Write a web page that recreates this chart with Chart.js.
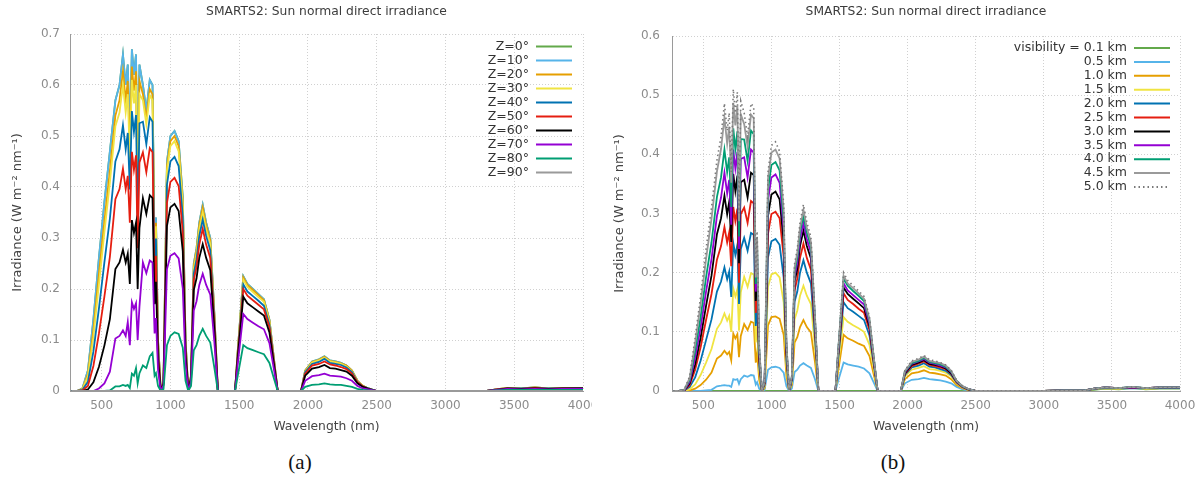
<!DOCTYPE html>
<html lang="en">
<head>
  <meta charset="utf-8">
  <title>SMARTS2: Sun normal direct irradiance</title>
  <script src="https://cdn.jsdelivr.net/npm/chart.js@4"></script>
  <style>
    body {
      margin: 0;
      background: #fff;
      width: 1203px;
      height: 479px;
      position: relative;
      overflow: hidden;
    }
    canvas { position: absolute; top: 0; }
    #chartA { left: 0; }
    #chartB { left: 600px; }
    .caption {
      position: absolute;
      top: 450px;
      height: 24px;
      line-height: 24px;
      font-family: "Liberation Serif", "DejaVu Serif", serif;
      font-size: 21px;
      color: #111;
      transform: translateX(-50%);
    }
  </style>
</head>
<body>
  <canvas id="chartA" width="592" height="440"></canvas>
  <canvas id="chartB" width="603" height="440"></canvas>
  <div class="caption" style="left:300px">(a)</div>
  <div class="caption" style="left:893px">(b)</div>

<script>
// wavelength grid (nm) shared by every curve
const wavelength = [
  280, 320, 360, 400, 440, 480, 520, 560, 600, 630,
  655, 675, 690, 705, 720, 735, 750, 762, 775, 800,
  825, 850, 870, 885, 895, 910, 930, 950, 975, 1000,
  1030, 1060, 1090, 1110, 1130, 1150, 1170, 1190, 1210, 1235,
  1260, 1290, 1320, 1345, 1400, 1470, 1490, 1530, 1560, 1600,
  1640, 1680, 1720, 1750, 1780, 1850, 1950, 1980, 2030, 2080,
  2120, 2160, 2200, 2240, 2280, 2320, 2360, 2400, 2440, 2500,
  3000, 3150, 3300, 3370, 3450, 3550, 3650, 3750, 3850, 4000
];

const xTicks = [500, 1000, 1500, 2000, 2500, 3000, 3500, 4000];
const yTicksA = [0, 0.1, 0.2, 0.3, 0.4, 0.5, 0.6, 0.7];
const yTicksB = [0, 0.1, 0.2, 0.3, 0.4, 0.5, 0.6];

// (a) zenith angle series, W m-2 nm-1
const zen0 = [
  0, 0, 0.005, 0.04, 0.14, 0.26, 0.37, 0.47, 0.57, 0.60,
  0.66, 0.60, 0.64, 0.50, 0.67, 0.62, 0.66, 0.40, 0.64, 0.60,
  0.55, 0.61, 0.60, 0.27, 0.34, 0.10, 0, 0.02, 0.45, 0.50,
  0.51, 0.49, 0.38, 0.10, 0, 0.03, 0.25, 0.28, 0.33, 0.365,
  0.33, 0.30, 0.15, 0, 0, 0, 0.08, 0.225, 0.21, 0.20,
  0.19, 0.18, 0.14, 0.07, 0, 0, 0, 0.04, 0.058, 0.062,
  0.068, 0.06, 0.058, 0.055, 0.05, 0.04, 0.02, 0.01, 0.005, 0,
  0, 0, 0, 0.003, 0.006, 0.005, 0.007, 0.005, 0.006, 0.006
];
const zen10 = [
  0, 0, 0.005, 0.04, 0.14, 0.26, 0.37, 0.47, 0.57, 0.60,
  0.66, 0.60, 0.64, 0.50, 0.67, 0.62, 0.66, 0.40, 0.64, 0.60,
  0.55, 0.61, 0.60, 0.27, 0.34, 0.10, 0, 0.02, 0.45, 0.50,
  0.51, 0.49, 0.38, 0.10, 0, 0.03, 0.25, 0.28, 0.33, 0.365,
  0.33, 0.30, 0.15, 0, 0, 0, 0.08, 0.225, 0.21, 0.20,
  0.19, 0.18, 0.14, 0.07, 0, 0, 0, 0.04, 0.058, 0.062,
  0.068, 0.06, 0.058, 0.055, 0.05, 0.04, 0.02, 0.01, 0.005, 0,
  0, 0, 0, 0.003, 0.006, 0.005, 0.007, 0.005, 0.006, 0.006
];
const zen20 = [
  0, 0, 0.004, 0.033, 0.119, 0.229, 0.333, 0.432, 0.54, 0.57,
  0.627, 0.57, 0.608, 0.475, 0.636, 0.589, 0.627, 0.38, 0.608, 0.582,
  0.534, 0.592, 0.582, 0.262, 0.33, 0.097, 0, 0.02, 0.441, 0.49,
  0.50, 0.48, 0.372, 0.098, 0, 0.03, 0.246, 0.276, 0.325, 0.36,
  0.325, 0.296, 0.148, 0, 0, 0, 0.079, 0.223, 0.208, 0.198,
  0.188, 0.178, 0.139, 0.069, 0, 0, 0, 0.04, 0.057, 0.061,
  0.067, 0.059, 0.057, 0.054, 0.05, 0.04, 0.02, 0.01, 0.005, 0,
  0, 0, 0, 0.003, 0.006, 0.005, 0.007, 0.005, 0.006, 0.006
];
const zen30 = [
  0, 0, 0.003, 0.028, 0.105, 0.208, 0.311, 0.409, 0.519, 0.546,
  0.60, 0.546, 0.582, 0.455, 0.61, 0.564, 0.60, 0.364, 0.582, 0.57,
  0.523, 0.58, 0.57, 0.256, 0.323, 0.095, 0, 0.019, 0.432, 0.48,
  0.49, 0.47, 0.365, 0.096, 0, 0.029, 0.24, 0.269, 0.317, 0.35,
  0.317, 0.288, 0.144, 0, 0, 0, 0.078, 0.218, 0.204, 0.194,
  0.184, 0.175, 0.136, 0.068, 0, 0, 0, 0.038, 0.056, 0.06,
  0.065, 0.058, 0.056, 0.053, 0.048, 0.038, 0.019, 0.01, 0.005, 0,
  0, 0, 0, 0.003, 0.006, 0.005, 0.006, 0.005, 0.006, 0.006
];
const zen40 = [
  0, 0, 0.002, 0.018, 0.077, 0.161, 0.252, 0.338, 0.45, 0.474,
  0.521, 0.474, 0.506, 0.395, 0.549, 0.508, 0.541, 0.328, 0.525, 0.528,
  0.484, 0.537, 0.528, 0.238, 0.299, 0.088, 0, 0.018, 0.405, 0.45,
  0.459, 0.441, 0.342, 0.09, 0, 0.028, 0.23, 0.258, 0.304, 0.336,
  0.304, 0.276, 0.138, 0, 0, 0, 0.074, 0.209, 0.195, 0.186,
  0.177, 0.167, 0.13, 0.065, 0, 0, 0, 0.037, 0.053, 0.057,
  0.063, 0.055, 0.053, 0.051, 0.046, 0.037, 0.018, 0.009, 0.005, 0,
  0, 0, 0, 0.003, 0.005, 0.005, 0.006, 0.005, 0.005, 0.006
];
const zen50 = [
  0, 0, 0.001, 0.01, 0.049, 0.112, 0.185, 0.263, 0.376, 0.396,
  0.436, 0.396, 0.422, 0.33, 0.469, 0.434, 0.462, 0.28, 0.448, 0.468,
  0.429, 0.476, 0.468, 0.21, 0.265, 0.078, 0, 0.016, 0.369, 0.41,
  0.418, 0.402, 0.312, 0.082, 0, 0.026, 0.218, 0.244, 0.287, 0.318,
  0.287, 0.261, 0.131, 0, 0, 0, 0.071, 0.2, 0.187, 0.178,
  0.169, 0.16, 0.125, 0.062, 0, 0, 0, 0.034, 0.05, 0.053,
  0.058, 0.052, 0.05, 0.047, 0.043, 0.034, 0.017, 0.009, 0.004, 0,
  0, 0, 0, 0.003, 0.005, 0.004, 0.006, 0.004, 0.005, 0.005
];
const zen60 = [
  0, 0, 0, 0.003, 0.017, 0.047, 0.089, 0.141, 0.239, 0.252,
  0.277, 0.252, 0.269, 0.21, 0.335, 0.31, 0.33, 0.2, 0.32, 0.378,
  0.347, 0.384, 0.378, 0.17, 0.214, 0.063, 0, 0.014, 0.324, 0.36,
  0.367, 0.353, 0.274, 0.072, 0, 0.024, 0.198, 0.221, 0.261, 0.288,
  0.261, 0.237, 0.119, 0, 0, 0, 0.066, 0.185, 0.172, 0.164,
  0.156, 0.148, 0.115, 0.057, 0, 0, 0, 0.03, 0.044, 0.047,
  0.051, 0.045, 0.044, 0.041, 0.038, 0.03, 0.015, 0.008, 0.004, 0,
  0, 0, 0, 0.002, 0.005, 0.004, 0.005, 0.004, 0.005, 0.005
];
const zen70 = [
  0, 0, 0, 0, 0, 0.005, 0.015, 0.038, 0.103, 0.108,
  0.119, 0.108, 0.135, 0.09, 0.174, 0.161, 0.172, 0.1, 0.166, 0.252,
  0.231, 0.256, 0.252, 0.113, 0.143, 0.042, 0, 0.011, 0.239, 0.265,
  0.27, 0.26, 0.201, 0.053, 0, 0.019, 0.158, 0.176, 0.208, 0.23,
  0.208, 0.189, 0.095, 0, 0, 0, 0.054, 0.151, 0.141, 0.134,
  0.127, 0.121, 0.094, 0.047, 0, 0, 0, 0.02, 0.029, 0.031,
  0.034, 0.03, 0.029, 0.028, 0.025, 0.02, 0.01, 0.005, 0.003, 0,
  0, 0, 0, 0.002, 0.004, 0.003, 0.004, 0.003, 0.004, 0.004
];
const zen80 = [
  0, 0, 0, 0, 0, 0, 0, 0.001, 0.009, 0.009,
  0.012, 0.01, 0.012, 0.006, 0.034, 0.03, 0.045, 0.015, 0.035, 0.05,
  0.045, 0.068, 0.075, 0.03, 0.035, 0.01, 0, 0.004, 0.09, 0.108,
  0.115, 0.112, 0.085, 0.02, 0, 0.01, 0.08, 0.09, 0.108, 0.122,
  0.108, 0.095, 0.045, 0, 0, 0, 0.03, 0.09, 0.084, 0.08,
  0.076, 0.072, 0.055, 0.027, 0, 0, 0, 0.008, 0.012, 0.013,
  0.015, 0.013, 0.012, 0.012, 0.01, 0.008, 0.004, 0.002, 0.001, 0,
  0, 0, 0, 0.001, 0.002, 0.002, 0.002, 0.002, 0.002, 0.002
];
const zen90 = [
  0, 0, 0, 0, 0, 0, 0, 0, 0, 0,
  0, 0, 0, 0, 0, 0, 0, 0, 0, 0,
  0, 0, 0, 0, 0, 0, 0, 0, 0, 0,
  0, 0, 0, 0, 0, 0, 0, 0, 0, 0,
  0, 0, 0, 0, 0, 0, 0, 0, 0, 0,
  0, 0, 0, 0, 0, 0, 0, 0, 0, 0,
  0, 0, 0, 0, 0, 0, 0, 0, 0, 0,
  0, 0, 0, 0, 0, 0, 0, 0, 0, 0
];

// (b) visibility series, W m-2 nm-1
const vis01 = [
  0, 0, 0, 0, 0, 0, 0, 0, 0, 0,
  0, 0, 0, 0, 0, 0, 0, 0, 0, 0,
  0, 0, 0, 0, 0, 0, 0, 0, 0, 0,
  0, 0, 0, 0, 0, 0, 0, 0, 0, 0,
  0, 0, 0, 0, 0, 0, 0, 0, 0, 0,
  0, 0, 0, 0, 0, 0, 0, 0, 0, 0,
  0, 0, 0, 0, 0, 0, 0, 0, 0, 0,
  0, 0, 0, 0.002, 0.004, 0.003, 0.005, 0.003, 0.004, 0.004
];
const vis05 = [
  0, 0, 0, 0, 0, 0, 0.001, 0.002, 0.008, 0.009,
  0.01, 0.009, 0.009, 0.007, 0.02, 0.019, 0.02, 0.012, 0.02, 0.026,
  0.024, 0.027, 0.026, 0.011, 0.015, 0.004, 0, 0.002, 0.036, 0.04,
  0.041, 0.039, 0.031, 0.008, 0, 0.004, 0.032, 0.036, 0.043, 0.047,
  0.043, 0.039, 0.02, 0, 0, 0, 0.017, 0.048, 0.045, 0.043,
  0.041, 0.038, 0.03, 0.015, 0, 0, 0, 0.013, 0.019, 0.02,
  0.022, 0.02, 0.019, 0.018, 0.016, 0.013, 0.007, 0.003, 0.001, 0,
  0, 0.001, 0.001, 0.003, 0.005, 0.004, 0.005, 0.004, 0.005, 0.005
];
const vis10 = [
  0, 0, 0, 0.001, 0.004, 0.01, 0.019, 0.031, 0.055, 0.06,
  0.068, 0.062, 0.066, 0.052, 0.097, 0.089, 0.096, 0.057, 0.093, 0.113,
  0.103, 0.117, 0.115, 0.048, 0.065, 0.019, 0, 0.005, 0.111, 0.125,
  0.126, 0.122, 0.095, 0.026, 0, 0.01, 0.082, 0.091, 0.108, 0.12,
  0.108, 0.099, 0.049, 0, 0, 0, 0.033, 0.095, 0.089, 0.085,
  0.08, 0.076, 0.059, 0.029, 0, 0, 0, 0.02, 0.03, 0.032,
  0.035, 0.031, 0.03, 0.028, 0.026, 0.02, 0.01, 0.005, 0.002, 0,
  0, 0.001, 0.001, 0.003, 0.005, 0.004, 0.006, 0.004, 0.005, 0.005
];
const vis15 = [
  0, 0, 0, 0.003, 0.011, 0.027, 0.048, 0.071, 0.105, 0.116,
  0.131, 0.119, 0.127, 0.1, 0.173, 0.16, 0.172, 0.102, 0.167, 0.193,
  0.176, 0.199, 0.197, 0.082, 0.111, 0.033, 0, 0.008, 0.176, 0.197,
  0.2, 0.192, 0.15, 0.04, 0, 0.015, 0.121, 0.136, 0.161, 0.178,
  0.161, 0.147, 0.073, 0, 0, 0, 0.044, 0.125, 0.117, 0.111,
  0.106, 0.1, 0.078, 0.039, 0, 0, 0, 0.025, 0.036, 0.039,
  0.042, 0.037, 0.036, 0.034, 0.031, 0.025, 0.013, 0.006, 0.003, 0,
  0, 0.001, 0.001, 0.004, 0.005, 0.004, 0.006, 0.004, 0.005, 0.005
];
const vis20 = [
  0, 0, 0.001, 0.007, 0.023, 0.051, 0.086, 0.121, 0.168, 0.185,
  0.209, 0.189, 0.202, 0.159, 0.25, 0.23, 0.247, 0.147, 0.24, 0.259,
  0.237, 0.267, 0.264, 0.11, 0.149, 0.044, 0, 0.01, 0.226, 0.253,
  0.257, 0.247, 0.192, 0.052, 0, 0.018, 0.151, 0.168, 0.2, 0.221,
  0.2, 0.182, 0.091, 0, 0, 0, 0.053, 0.15, 0.14, 0.134,
  0.127, 0.12, 0.094, 0.047, 0, 0, 0, 0.027, 0.04, 0.043,
  0.047, 0.041, 0.04, 0.037, 0.034, 0.027, 0.014, 0.007, 0.003, 0,
  0, 0.001, 0.001, 0.004, 0.005, 0.005, 0.006, 0.005, 0.005, 0.005
];
const vis25 = [
  0, 0, 0.001, 0.01, 0.036, 0.074, 0.12, 0.164, 0.222, 0.245,
  0.277, 0.251, 0.268, 0.211, 0.311, 0.287, 0.308, 0.183, 0.299, 0.31,
  0.284, 0.321, 0.317, 0.132, 0.178, 0.053, 0, 0.012, 0.266, 0.299,
  0.303, 0.292, 0.227, 0.061, 0, 0.021, 0.17, 0.19, 0.225, 0.249,
  0.225, 0.205, 0.103, 0, 0, 0, 0.058, 0.165, 0.154, 0.147,
  0.139, 0.132, 0.103, 0.051, 0, 0, 0, 0.029, 0.042, 0.046,
  0.05, 0.044, 0.042, 0.04, 0.037, 0.029, 0.015, 0.007, 0.003, 0,
  0, 0.001, 0.001, 0.004, 0.006, 0.005, 0.006, 0.005, 0.006, 0.006
];
const vis30 = [
  0, 0, 0.001, 0.013, 0.045, 0.09, 0.144, 0.195, 0.265, 0.292,
  0.33, 0.299, 0.32, 0.252, 0.367, 0.338, 0.364, 0.216, 0.353, 0.357,
  0.327, 0.369, 0.365, 0.152, 0.205, 0.061, 0, 0.014, 0.296, 0.332,
  0.337, 0.324, 0.252, 0.068, 0, 0.022, 0.185, 0.206, 0.245, 0.271,
  0.245, 0.224, 0.112, 0, 0, 0, 0.061, 0.175, 0.164, 0.156,
  0.148, 0.14, 0.109, 0.054, 0, 0, 0, 0.03, 0.044, 0.048,
  0.052, 0.046, 0.044, 0.042, 0.038, 0.03, 0.016, 0.008, 0.003, 0,
  0, 0.001, 0.001, 0.004, 0.006, 0.005, 0.006, 0.005, 0.006, 0.006
];
const vis35 = [
  0, 0, 0.001, 0.016, 0.056, 0.107, 0.168, 0.223, 0.296, 0.327,
  0.369, 0.334, 0.357, 0.281, 0.408, 0.376, 0.404, 0.24, 0.392, 0.395,
  0.361, 0.408, 0.403, 0.168, 0.227, 0.067, 0, 0.015, 0.322, 0.361,
  0.366, 0.352, 0.274, 0.074, 0, 0.023, 0.194, 0.216, 0.257, 0.284,
  0.257, 0.234, 0.117, 0, 0, 0, 0.064, 0.182, 0.17, 0.162,
  0.154, 0.146, 0.114, 0.056, 0, 0, 0, 0.032, 0.046, 0.05,
  0.054, 0.048, 0.046, 0.043, 0.04, 0.032, 0.016, 0.008, 0.004, 0,
  0, 0.001, 0.001, 0.004, 0.006, 0.005, 0.006, 0.005, 0.006, 0.006
];
const vis40 = [
  0, 0, 0.002, 0.019, 0.068, 0.125, 0.192, 0.251, 0.328, 0.361,
  0.408, 0.37, 0.395, 0.311, 0.444, 0.409, 0.439, 0.261, 0.426, 0.425,
  0.389, 0.44, 0.434, 0.181, 0.244, 0.072, 0, 0.016, 0.34, 0.382,
  0.387, 0.373, 0.29, 0.078, 0, 0.024, 0.202, 0.226, 0.268, 0.296,
  0.268, 0.244, 0.122, 0, 0, 0, 0.067, 0.19, 0.178, 0.169,
  0.161, 0.152, 0.119, 0.059, 0, 0, 0, 0.033, 0.047, 0.051,
  0.056, 0.049, 0.047, 0.045, 0.041, 0.033, 0.017, 0.008, 0.004, 0,
  0, 0.001, 0.001, 0.004, 0.006, 0.005, 0.007, 0.005, 0.006, 0.006
];
const vis45 = [
  0, 0, 0.002, 0.022, 0.081, 0.147, 0.223, 0.291, 0.371, 0.409,
  0.462, 0.418, 0.447, 0.352, 0.487, 0.449, 0.482, 0.287, 0.468, 0.451,
  0.413, 0.467, 0.461, 0.192, 0.259, 0.077, 0, 0.016, 0.359, 0.403,
  0.408, 0.393, 0.306, 0.082, 0, 0.025, 0.209, 0.233, 0.276, 0.306,
  0.276, 0.252, 0.126, 0, 0, 0, 0.068, 0.195, 0.182, 0.174,
  0.165, 0.156, 0.122, 0.06, 0, 0, 0, 0.034, 0.049, 0.053,
  0.058, 0.051, 0.049, 0.047, 0.043, 0.034, 0.017, 0.009, 0.004, 0,
  0, 0.001, 0.001, 0.004, 0.006, 0.005, 0.007, 0.005, 0.006, 0.006
];
const vis50 = [
  0, 0, 0.002, 0.025, 0.09, 0.16, 0.24, 0.31, 0.39, 0.43,
  0.486, 0.44, 0.47, 0.37, 0.51, 0.47, 0.505, 0.30, 0.49, 0.47,
  0.43, 0.486, 0.48, 0.20, 0.27, 0.08, 0, 0.017, 0.37, 0.415,
  0.421, 0.405, 0.315, 0.085, 0, 0.026, 0.215, 0.24, 0.285, 0.315,
  0.285, 0.26, 0.13, 0, 0, 0, 0.07, 0.20, 0.187, 0.178,
  0.169, 0.16, 0.125, 0.062, 0, 0, 0, 0.035, 0.051, 0.055,
  0.06, 0.053, 0.051, 0.048, 0.044, 0.035, 0.018, 0.009, 0.004, 0,
  0, 0.001, 0.001, 0.004, 0.006, 0.005, 0.007, 0.005, 0.006, 0.006
];

const zenLabels = ['Z=0°', 'Z=10°', 'Z=20°', 'Z=30°', 'Z=40°', 'Z=50°', 'Z=60°', 'Z=70°', 'Z=80°', 'Z=90°'];
const visLabels = ['visibility = 0.1 km', '0.5 km', '1.0 km', '1.5 km', '2.0 km', '2.5 km', '3.0 km', '3.5 km', '4.0 km', '4.5 km', '5.0 km'];
const lineColors = ['#63a94b', '#56b4e9', '#e69f00', '#f0e442', '#0072b2', '#e51e10', '#000000', '#9400d3', '#009e73', '#9a9a9a', '#7a7a7a'];

const FONT = '"DejaVu Sans", sans-serif';
Chart.defaults.font.family = FONT;
Chart.defaults.color = '#8c8c8c';

// title centred over the plot area, like gnuplot does
const plotTitle = {
  id: 'plotTitle',
  afterDraw(chart, args, o) {
    const ctx = chart.ctx, area = chart.chartArea;
    ctx.save();
    ctx.font = '12.3px ' + FONT;
    ctx.fillStyle = '#3c3c3c';
    ctx.textAlign = 'center';
    ctx.textBaseline = 'middle';
    ctx.fillText(o.text, (area.left + area.right) / 2, 12);
    ctx.restore();
  }
};

// key inside the plot, text right-aligned with the sample on its right
const insideKey = {
  id: 'insideKey',
  afterDatasetsDraw(chart, args, o) {
    const ctx = chart.ctx;
    ctx.save();
    ctx.font = '12.5px ' + FONT;
    ctx.textAlign = 'right';
    ctx.textBaseline = 'middle';
    chart.data.datasets.forEach((ds, i) => {
      const y = o.top + i * o.step;
      ctx.fillStyle = '#333';
      ctx.fillText(ds.label, o.textRight, y);
      ctx.strokeStyle = ds.borderColor;
      ctx.lineWidth = 2;
      ctx.setLineDash(ds.borderDash || []);
      ctx.beginPath();
      ctx.moveTo(o.lineFrom, y);
      ctx.lineTo(o.lineTo, y);
      ctx.stroke();
    });
    ctx.restore();
  }
};

function pts(vals) {
  return wavelength.map((x, i) => ({ x: x, y: vals[i] }));
}

function makeDatasets(series, labels) {
  return series.map((vals, i) => ({
    label: labels[i],
    data: pts(vals),
    borderColor: lineColors[i],
    borderWidth: i === 10 ? 1.6 : 1.8,
    borderDash: i === 10 ? [1.5, 3] : [],
    pointRadius: 0,
    tension: 0,
    fill: false,
    order: series.length - i   // later series drawn on top
  }));
}

function makeOptions(cfg) {
  return {
    responsive: false,
    animation: false,
    events: [],
    layout: { padding: { left: 0, right: cfg.padRight, top: cfg.top, bottom: 0 } },
    plugins: {
      legend: { display: false },
      tooltip: { enabled: false },
      plotTitle: { text: 'SMARTS2: Sun normal direct irradiance' },
      insideKey: cfg.key
    },
    scales: {
      x: {
        type: 'linear',
        min: 270,
        max: 4000,
        afterBuildTicks: s => { s.ticks = xTicks.map(v => ({ value: v })); },
        afterFit: s => { s.height = 49; s.paddingLeft = 0; s.paddingRight = 0; },
        grid: { color: '#d0d0d0', drawTicks: false },
        border: { color: '#9a9a9a', dash: [1, 2] },
        ticks: { padding: 8, maxRotation: 0, autoSkip: false, font: { size: 12 }, callback: v => String(v) },
        title: { display: true, text: 'Wavelength (nm)', color: '#444', font: { size: 12.3 }, padding: { top: 0, bottom: 6 } }
      },
      y: {
        min: 0,
        max: cfg.yMax,
        afterBuildTicks: s => { s.ticks = cfg.yTicks.map(v => ({ value: v })); },
        afterFit: s => { s.width = cfg.yWidth; s.paddingTop = 0; s.paddingBottom = 0; },
        grid: { color: '#d0d0d0', drawTicks: false },
        border: { color: '#9a9a9a', dash: [1, 2] },
        ticks: { padding: cfg.yPad, font: { size: 12 }, callback: v => v === 0 ? '0' : v.toFixed(1) },
        title: { display: true, text: 'Irradiance (W m⁻² nm⁻¹)', color: '#444', font: { size: 13 }, padding: { top: cfg.yTitlePad, bottom: 0 } }
      }
    }
  };
}

new Chart(document.getElementById('chartA'), {
  type: 'line',
  data: {
    datasets: makeDatasets([zen0, zen10, zen20, zen30, zen40, zen50, zen60, zen70, zen80, zen90], zenLabels)
  },
  options: makeOptions({
    padRight: 9, top: 34, yMax: 0.7, yTicks: yTicksA, yWidth: 70, yPad: 10, yTitlePad: 10,
    key: { top: 46.5, step: 14, textRight: 529, lineFrom: 536, lineTo: 572 }
  }),
  plugins: [plotTitle, insideKey]
});

new Chart(document.getElementById('chartB'), {
  type: 'line',
  data: {
    datasets: makeDatasets([vis01, vis05, vis10, vis15, vis20, vis25, vis30, vis35, vis40, vis45, vis50], visLabels)
  },
  options: makeOptions({
    padRight: 23, top: 36, yMax: 0.6, yTicks: yTicksB, yWidth: 72, yPad: 12, yTitlePad: 12,
    key: { top: 48, step: 13.9, textRight: 527, lineFrom: 534, lineTo: 570 }
  }),
  plugins: [plotTitle, insideKey]
});
</script>
</body>
</html>
